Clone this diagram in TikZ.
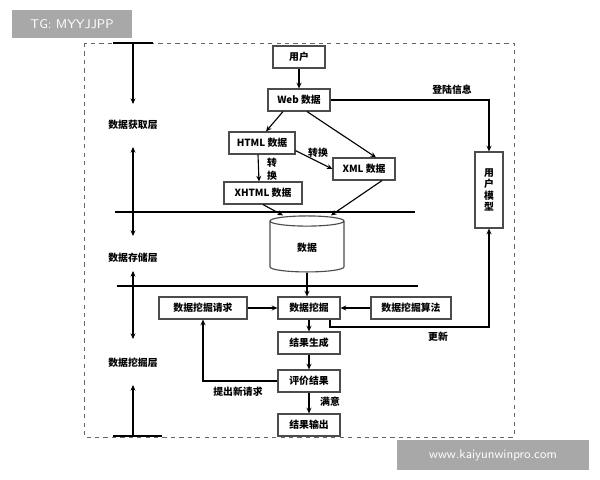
\documentclass[tikz,border=0pt]{standalone}
\usepackage{fontspec}
\setmainfont{Liberation Serif}
\newfontfamily\cjk{Noto Sans CJK SC}
\usetikzlibrary{arrows.meta,positioning,shapes.geometric}
\definecolor{marca}{HTML}{A8A8A8}

\begin{document}
\begin{tikzpicture}[x=0.025cm,y=-0.025cm,
    font=\fontsize{7}{8}\selectfont\bfseries\cjk,
    caja/.style={draw=black!70,thick,fill=white,minimum height=0.55cm,inner sep=1pt},
    flecha/.style={-{Stealth[length=4pt,width=3.5pt]},thick},
    doble/.style={{Stealth[length=4pt,width=3.5pt]}-{Stealth[length=4pt,width=3.5pt]},thick},
    etiqueta/.style={inner sep=1pt}]
    \useasboundingbox (0,0) rectangle (600,480);
    % ---- Marco ----
    \draw[dashed,black!60] (84,43) rectangle (514,437);
    \draw[thick] (113,43) -- (153,43);
    \draw[thick] (113,436) -- (162,436);
    \draw[thick] (115,212) -- (415,212);
    \draw[thick] (117,286) -- (418,286);
    % ---- Capas ----
    \coordinate (c0) at (133,43);
    \coordinate (c1) at (133,104);
    \coordinate (c2) at (133,147);
    \coordinate (c3) at (133,236);
    \coordinate (c4) at (133,271);
    \coordinate (c5) at (133,339);
    \coordinate (c6) at (133,385);
    \coordinate (c7) at (133,436);
    \draw[flecha] (c0) -- (c1);
    \draw[doble] (c2) -- (c3);
    \draw[doble] (c4) -- (c5);
    \draw[flecha] (c7) -- (c6);
    \node[etiqueta] (capa1) at (133,125) {数据获取层};
    \node[etiqueta] (capa2) at (133,258) {数据存储层};
    \node[etiqueta] (capa3) at (133,363) {数据挖掘层};
    % ---- Cajas ----
    \node[caja,minimum width=1.3cm] (usuario) at (299,57) {用户};
    \node[caja,minimum width=1.55cm] (web) at (299,100) {Web 数据};
    \node[caja,minimum width=1.65cm] (html) at (262,143) {HTML 数据};
    \node[caja,minimum width=1.55cm] (xml) at (364,169) {XML 数据};
    \node[caja,minimum width=1.95cm] (xhtml) at (263,193) {XHTML 数据};
    \node[cylinder,shape border rotate=90,draw=black!70,thick,aspect=0.35,
          minimum width=1.85cm,minimum height=1.4cm] (datos) at (307,248) {数据};
    \node[caja,minimum width=0.7cm,minimum height=1.9cm,align=center] (modelo) at (489,190) {用\\户\\模\\型};
    \node[caja,minimum width=2.2cm] (peticion) at (203,308) {数据挖掘请求};
    \node[caja,minimum width=1.55cm] (mineria) at (309,308) {数据挖掘};
    \node[caja,minimum width=2cm] (algoritmo) at (411,308) {数据挖掘算法};
    \node[caja,minimum width=1.55cm] (genera) at (309,343) {结果生成};
    \node[caja,minimum width=1.55cm] (evalua) at (309,381) {评价结果};
    \node[caja,minimum width=1.55cm] (salida) at (309,425) {结果输出};
    % ---- Flechas ----
    \draw[flecha] (usuario) -- (web);
    \draw[flecha] ([xshift=-0.4cm]web.south) -- ([xshift=0.1cm]html.north);
    \draw[flecha] ([xshift=0.2cm]web.south) -- ([xshift=0.3cm]xml.north);
    \draw[flecha] ([yshift=0.1cm]html.south east) -- (xml.west);
    \node[etiqueta] (conv1) at (318,153) {转换};
    \draw[flecha] ([xshift=-0.1cm]html.south) -- ([xshift=-0.1cm]xhtml.north);
    \node[etiqueta,align=center] (conv2) at (272,169) {转\\[1pt]换};
    \draw[flecha] (xhtml.south) -- ([xshift=-0.6cm]datos.north);
    \draw[flecha] ([xshift=0.45cm]xml.south) -- ([xshift=0.6cm]datos.north);
    \draw[flecha] (datos.south) -- (datos.south |- mineria.north);
    \draw[flecha] (peticion) -- (mineria);
    \draw[flecha] (algoritmo) -- (mineria);
    \draw[flecha] (mineria) -- (genera);
    \draw[flecha] (genera) -- (evalua);
    \draw[flecha] (evalua) -- (salida);
    \node[etiqueta] (ok) at (330,402) {满意};
    \draw[flecha] (evalua.west) -| (peticion.south);
    \node[etiqueta] (nueva) at (238,392) {提出新请求};
    \draw[flecha] (web.east) -| (modelo.north);
    \node[etiqueta] (login) at (452,90) {登陆信息};
    \coordinate (esq) at (330,327);
    \draw[flecha] (mineria.south east -| esq) -- (esq) -| (modelo.south);
    \node[etiqueta] (actual) at (438,337) {更新};
    % ---- Marcas ----
    \node[fill=marca,text=white,font=\fontsize{9}{10}\selectfont\sffamily,
          minimum width=3cm,minimum height=0.7cm] (tg) at (72,24) {TG: MYYJJPP};
    \node[fill=marca,text=white,font=\fontsize{9}{10}\selectfont\sffamily,
          minimum width=4.8cm,minimum height=0.75cm] (url) at (493,455) {www.kaiyunwinpro.com};
\end{tikzpicture}
\end{document}
